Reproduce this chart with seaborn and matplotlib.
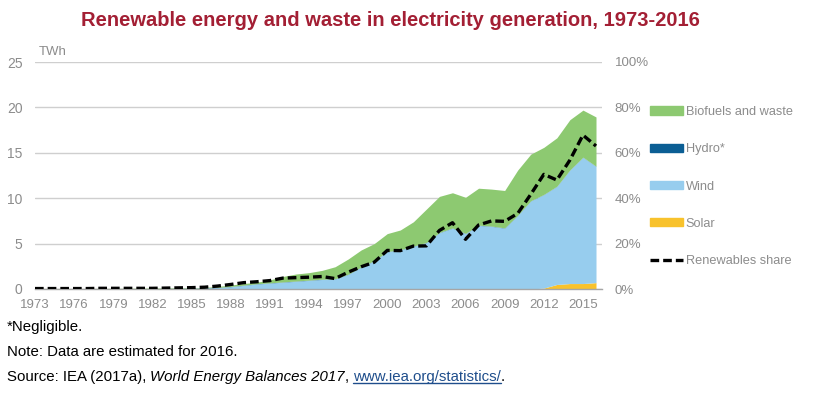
import matplotlib
matplotlib.use("Agg")
import matplotlib.pyplot as plt
import seaborn as sns
from matplotlib import font_manager
from matplotlib.patches import Patch
from matplotlib.lines import Line2D

# data (TWh)
years = list(range(1973, 2017))
solar = [0.0] * 39 + [0.1, 0.5, 0.6, 0.6, 0.7]
wind = [0, 0, 0, 0, 0, 0.01, 0.01, 0.01, 0.02, 0.03, 0.03, 0.05, 0.06, 0.1, 0.15,
        0.25, 0.4, 0.55, 0.65, 0.75, 0.85, 0.95, 1.05, 1.1, 1.6, 2.4, 3.1, 4.1, 4.3,
        4.7, 5.1, 6.2, 6.7, 6.1, 7.0, 6.9, 6.7, 8.1, 9.7, 10.3, 10.8, 12.5, 13.9, 12.8]
hydro = [0.03] * 38 + [0.02] * 6
biofuels = [0.03, 0.03, 0.03, 0.03, 0.03, 0.03, 0.03, 0.04, 0.04, 0.05, 0.05, 0.06,
            0.04, 0.05, 0.10, 0.16, 0.17, 0.17, 0.32, 0.60, 0.77, 0.82, 0.97, 1.32,
            1.67, 1.87, 1.87, 1.97, 2.17, 2.67, 3.67, 3.97, 3.87, 3.97, 4.07, 4.07,
            4.12, 4.97, 5.13, 5.18, 5.33, 5.53, 5.18, 5.43]
share = [0.2, 0.2, 0.2, 0.2, 0.2, 0.3, 0.3, 0.3, 0.3, 0.3, 0.4, 0.5, 0.6, 0.8, 1.3,
         2.0, 2.8, 3.2, 3.7, 4.8, 5.0, 5.2, 5.5, 4.6, 7.4, 9.8, 11.8, 17.0, 16.9,
         18.9, 19.0, 25.8, 29.2, 21.9, 28.2, 30.0, 29.8, 33.3, 41.7, 50.5, 48.0,
         56.8, 67.8, 63.0]

series_names = ["Biofuels and waste", "Hydro*", "Wind", "Solar"]
share_name = "Renewables share"
year_ticks = list(range(1973, 2016, 3))
twh_ticks = [0, 5, 10, 15, 20, 25]
pct_ticks = [0, 20, 40, 60, 80, 100]
pct_labels = ["0%", "20%", "40%", "60%", "80%", "100%"]

c_bio = "#8DC971"
c_hydro = "#0B5E94"
c_wind = "#97CDEE"
c_solar = "#F8C22C"
grey = "#8C8C8C"

sns.set_theme(style="white")
installed = {f.name for f in font_manager.fontManager.ttflist}
narrow = "Liberation Sans Narrow" if "Liberation Sans Narrow" in installed else "Liberation Sans"
plt.rcParams["font.family"] = [narrow, "DejaVu Sans"]

fig = plt.figure(figsize=(8.16, 3.98), dpi=100)
ax = fig.add_axes([35 / 816, 1 - 289 / 398, 567 / 816, 227 / 398])

ax.stackplot(years, solar, wind, hydro, biofuels,
             colors=[c_solar, c_wind, c_hydro, c_bio], linewidth=0)
ax.set_xlim(1973, 2016.46)
ax.set_ylim(0, 25)
ax.set_yticks(twh_ticks)
ax.set_xticks(year_ticks)
ax.yaxis.grid(True, color="#CFCFCF", linewidth=1)
ax.set_axisbelow(True)
for s in ["top", "left", "right"]:
    ax.spines[s].set_visible(False)
ax.spines["bottom"].set_color("#A6A6A6")
ax.spines["bottom"].set_linewidth(1)
ax.tick_params(axis="both", length=0, colors=grey, labelsize=9.5)
ax.tick_params(axis="y", pad=9, labelsize=10)
ax.tick_params(axis="x", pad=7)
ax.text(4 / 567, 1.045, "TWh", transform=ax.transAxes, color=grey,
        fontsize=9.5, va="center", ha="left")

ax2 = ax.twinx()
sns.lineplot(x=years, y=share, ax=ax2, color="black", linewidth=2.4,
             linestyle=(0, (2.6, 1.2)))
ax2.set_ylim(0, 100)
ax2.set_yticks(pct_ticks)
ax2.set_yticklabels(pct_labels)
ax2.set_ylabel("")
for s in ax2.spines.values():
    s.set_visible(False)
ax2.tick_params(axis="y", length=0, colors=grey, labelsize=9.5, pad=9)

handles = [Patch(color=c_bio), Patch(color=c_hydro), Patch(color=c_wind),
           Patch(color=c_solar),
           Line2D([0], [0], color="black", linewidth=2.4, linestyle=(0, (2.6, 1.2)))]
leg = fig.legend(handles, series_names + [share_name], loc="upper left",
                 bbox_to_anchor=(650 / 816, 1 - 106 / 398), frameon=False,
                 fontsize=9.2, handlelength=2.55, handleheight=0.6,
                 handletextpad=0.25, labelspacing=1.98, borderpad=0,
                 borderaxespad=0)
for t in leg.get_texts():
    t.set_color(grey)

fig.text(390 / 816, 1 - 21 / 398,
         "Renewable energy and waste in electricity generation, 1973-2016",
         ha="center", va="center", fontsize=14.5, fontweight="bold", color="#A31F34")

fs = 10.8
fig.text(7 / 816, 1 - 327 / 398, "*Negligible.", fontsize=fs, va="center", color="black")
fig.text(7 / 816, 1 - 352 / 398, "Note: Data are estimated for 2016.", fontsize=fs,
         va="center", color="black")

# source line, built from pieces
renderer = fig.canvas.get_renderer()
y_src = 1 - 377 / 398
probe1 = fig.text(0, 0, "aa", fontsize=fs)
probe2 = fig.text(0, 0, "a a", fontsize=fs)
space = (probe2.get_window_extent(renderer).width - probe1.get_window_extent(renderer).width) / 816
probe1.remove()
probe2.remove()
pieces = [("Source: IEA (2017a),", "normal", "black", True),
          ("World Energy Balances 2017", "italic", "black", False),
          (",", "normal", "black", True),
          ("www.iea.org/statistics/", "normal", "#1F4E8C", False),
          (".", "normal", "black", False)]
x = 7 / 816
for txt, style, col, add_space in pieces:
    t = fig.text(x, y_src, txt, fontsize=fs, style=style, color=col, va="center")
    w = t.get_window_extent(renderer).width / 816
    if col != "black":
        bb = t.get_window_extent(renderer)
        yl = (bb.y0 + 1) / 398
        fig.add_artist(Line2D([x, x + w], [yl, yl], color=col, linewidth=1))
    x += w + (space if add_space else 0)

fig.savefig("out.png", dpi=100)
